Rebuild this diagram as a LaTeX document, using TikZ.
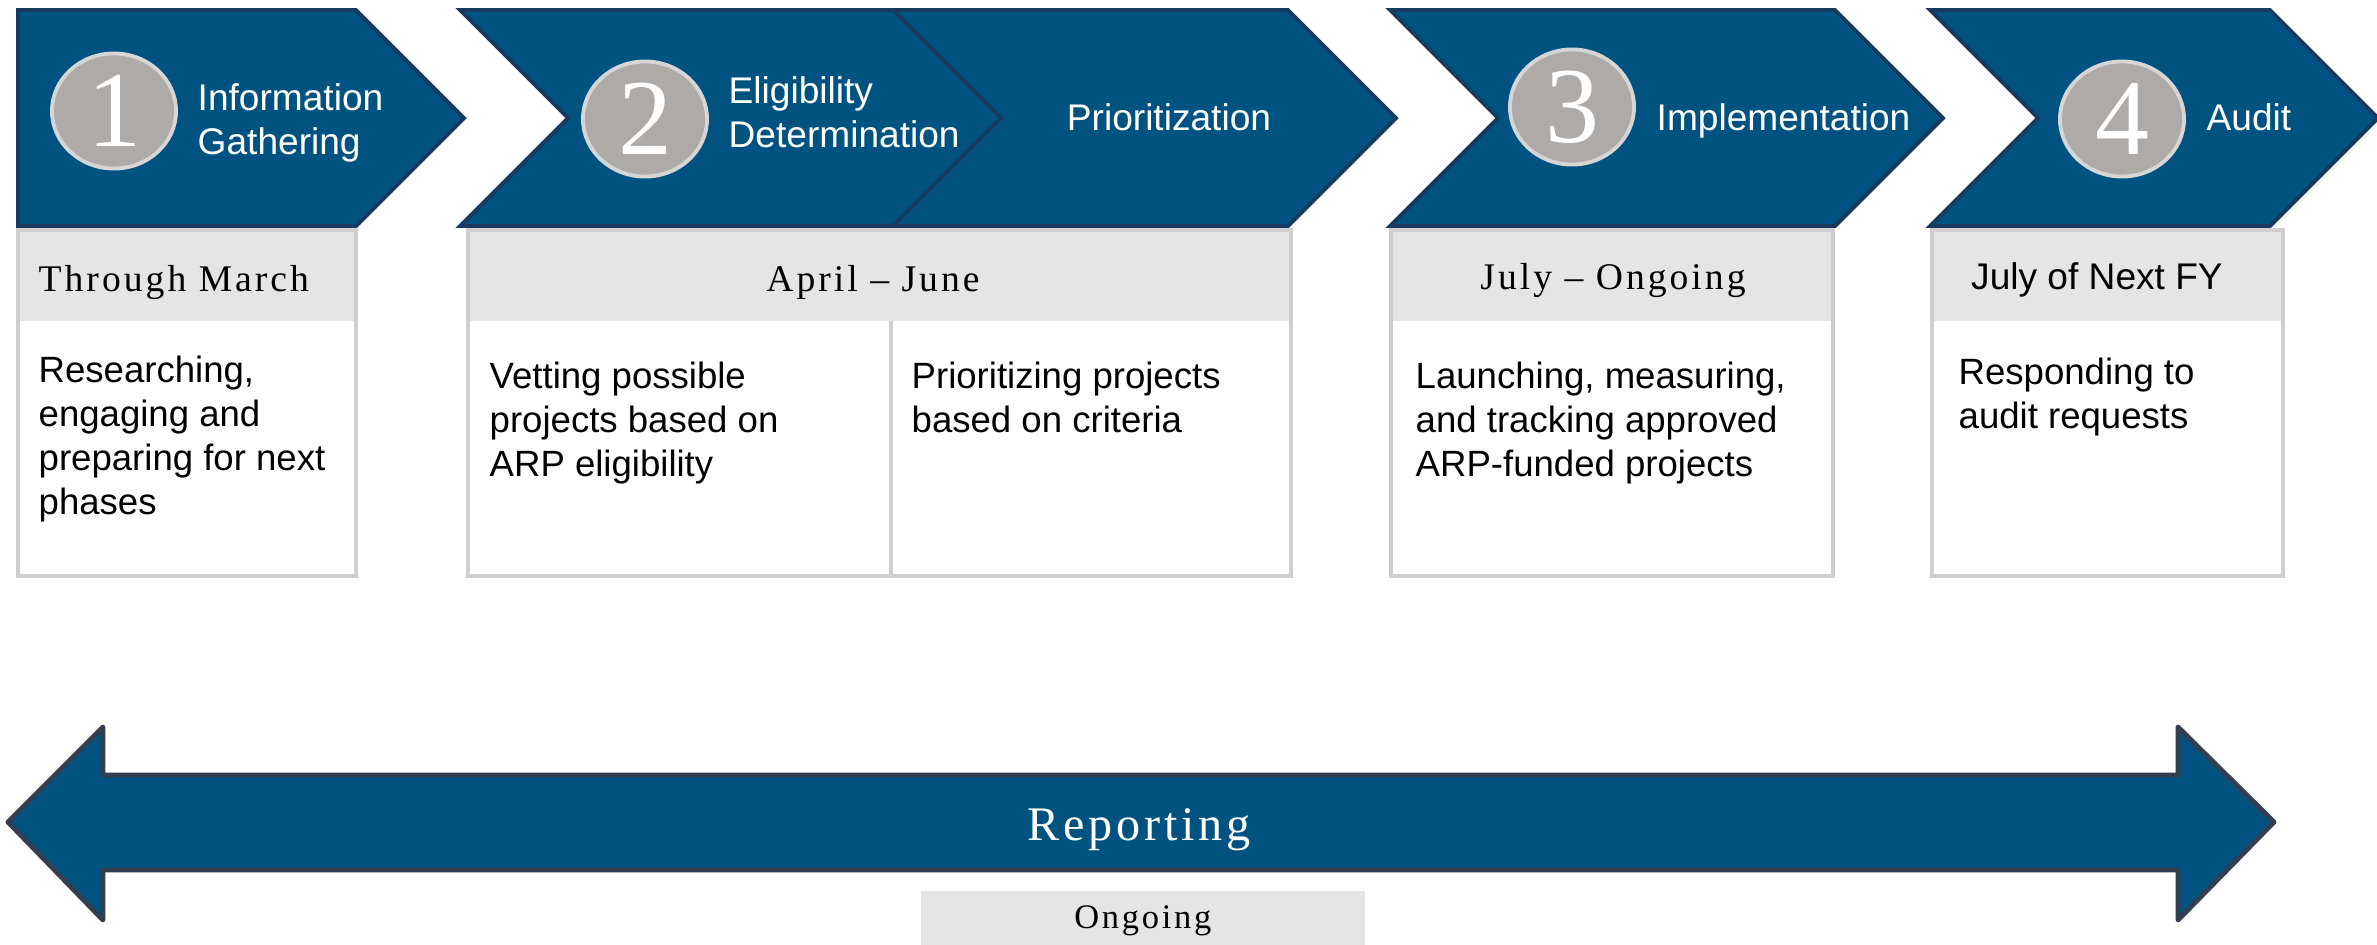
\documentclass[tikz,border=0pt]{standalone}
\usepackage{fontspec}
\setmainfont{Liberation Serif}
\setsansfont{Liberation Sans}
\newfontfamily\spaced[LetterSpace=8]{Liberation Serif}
\usetikzlibrary{shapes.geometric}

\definecolor{navy}{HTML}{005380}
\definecolor{navyedge}{HTML}{173A5E}
\definecolor{bandedge}{HTML}{333F50}
\definecolor{disc}{HTML}{ADAAA8}
\definecolor{discedge}{HTML}{D6D6D6}
\definecolor{hdrgray}{HTML}{E5E5E5}
\definecolor{cardedge}{HTML}{D0CECE}

\begin{document}
\begin{tikzpicture}[
  x=0.01cm, y=-0.01cm,
  chev/.style={fill=navy, draw=navyedge, line width=1.1pt, line join=miter},
  band/.style={fill=navy, draw=bandedge, line width=1.4pt, line join=round},
  numdisc/.style={ellipse, fill=disc, draw=discedge, line width=1.1pt,
                  minimum width=1.24cm, minimum height=1.15cm, inner sep=0pt,
                  text=white, font=\fontsize{30.7}{30.7}\selectfont},
  phase/.style={text=white, inner sep=0pt, align=left,
                font=\sffamily\fontsize{10.55}{12.5}\selectfont},
  card/.style={draw=cardedge, line width=1.1pt},
  when/.style={inner sep=0pt, font=\spaced\fontsize{10.7}{12.5}\selectfont},
  body/.style={inner sep=0pt, align=left, anchor=north west,
               font=\sffamily\fontsize{10.4}{12.5}\selectfont},
]
  \useasboundingbox (0,0) rectangle (2377,944);
  \clip (0,0) rectangle (2377,944);

  % phase chevrons
  \draw[chev] (18,10) -- (356,10) -- (464,118) -- (356,226) -- (18,226) -- cycle;
  \foreach \l/\r in {460/893, 893/1288, 1390/1835, 1930/2270}
    \draw[chev] (\l,10) -- (\r,10) -- ++(108,108) -- (\r,226) -- (\l,226)
      -- ++(108,-108) -- cycle;

  \node[numdisc] (c1) at (114,111) {1};
  \node[numdisc] (c2) at (645,119) {2};
  \node[numdisc] (c3) at (1572,107) {3};
  \node[numdisc] (c4) at (2122,119) {4};

  \node[phase, anchor=north west] (info) at (197,83) {Information\\Gathering};
  \node[phase, anchor=north west] (elig) at (728,76) {Eligibility\\Determination};
  \node[phase, anchor=base] (prio) at (1169,130) {Prioritization};
  \node[phase, anchor=base west] (impl) at (1656,130) {Implementation};
  \node[phase, anchor=base west] (audit) at (2206,130) {Audit};

  % cards under the chevrons
  \foreach \l/\r in {18/356, 468/1291, 1391/1833, 1932/2283} {
    \fill[white] (\l,230) rectangle (\r,576);
    \fill[hdrgray] (\l,230) rectangle (\r,321);
    \draw[card] (\l,230) rectangle (\r,576);
  }
  \draw[card] (891,321) -- (891,576);

  \node[when, anchor=base west] (hdr1) at (38,291) {Through March};
  \node[when, anchor=base] (hdr2) at (873,291) {April – June};
  \node[when, anchor=base] (hdr3) at (1613,289) {July – Ongoing};
  \node[phase, text=black, anchor=base] (hdr4) at (2097,289) {July of Next FY};

  \node[body] (body1) at (38,355)
    {Researching,\\engaging and\\preparing for next\\phases};
  \node[body] (body2a) at (489,361)
    {Vetting possible\\projects based on\\ARP eligibility};
  \node[body] (body2b) at (911,361)
    {Prioritizing projects\\based on criteria};
  \node[body] (body3) at (1415,361)
    {Launching, measuring,\\and tracking approved\\ARP-funded projects};
  \node[body] (body4) at (1958,357)
    {Responding to\\audit requests};

  % reporting band
  \draw[band] (8,822) -- (103,727) -- (103,775) -- (2178,775) -- (2178,727)
    -- (2274,822) -- (2178,920) -- (2178,870) -- (103,870) -- (103,920) -- cycle;
  \node[when, text=white, anchor=base, font=\spaced\fontsize{13.7}{16}\selectfont]
    (rep) at (1139,840) {Reporting};
  \node[when, fill=hdrgray, anchor=north west, minimum width=4.44cm,
        minimum height=0.6cm, font=\spaced\fontsize{9.8}{12}\selectfont]
    (ongo) at (920,890) {Ongoing};
\end{tikzpicture}
\end{document}
